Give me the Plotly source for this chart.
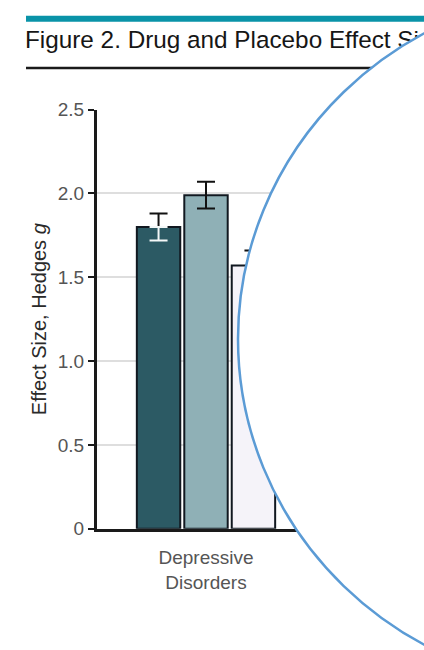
import plotly.graph_objects as go

# Effect sizes (Hedges g) with error bar half-widths
categories = ["Depressive<br>Disorders"]
drug_values = [1.80]
drug_err = [0.08]
placebo_values = [1.99]
placebo_err = [0.08]
third_values = [1.57]
third_err = [0.09]

y_ticks = [0, 0.5, 1.0, 1.5, 2.0, 2.5]
y_ticktext = ["0", "0.5", "1.0", "1.5", "2.0", "2.5"]

title_text = "Figure 2. Drug and Placebo Effect Sizes"

W, H = 424, 650
FONT = "Liberation Sans, Arial, sans-serif"
EDGE = "#111820"

fig = go.Figure()

series = [
    ("a", drug_values, drug_err, "#2c5a64"),
    ("b", placebo_values, placebo_err, "#8fb0b6"),
    ("c", third_values, third_err, "#f5f3f9"),
]
for group, vals, errs, color in series:
    lower = [0] * len(errs) if group == "a" else errs
    fig.add_trace(go.Bar(
        x=categories, y=vals, offsetgroup=group,
        marker=dict(color=color, line=dict(color=EDGE, width=2)),
        error_y=dict(type="data", symmetric=False, array=errs, arrayminus=lower,
                     color="#111", thickness=2, width=9),
        xaxis="x", yaxis="y", showlegend=False,
    ))

# lower whisker of the dark bar is drawn in white so it reads on the fill
fig.add_trace(go.Bar(
    x=categories, y=drug_values, offsetgroup="a",
    marker=dict(color="rgba(0,0,0,0)", line=dict(width=0)),
    error_y=dict(type="data", symmetric=False, array=[0] * len(drug_err),
                 arrayminus=drug_err, color="#f4f8f8", thickness=2, width=9),
    xaxis="x", yaxis="y", showlegend=False, hoverinfo="skip",
))

# title text on a full-page overlay axis so the callout circle sits above it
fig.add_trace(go.Scatter(
    x=[25], y=[33.5], mode="text", text=[title_text], textposition="middle right",
    textfont=dict(family=FONT, size=24.3, color="#161616"),
    xaxis="x2", yaxis="y2", showlegend=False, hoverinfo="skip", cliponaxis=True,
))

fig.update_layout(
    width=W, height=H,
    margin=dict(l=0, r=0, t=0, b=0),
    paper_bgcolor="white", plot_bgcolor="rgba(0,0,0,0)",
    barmode="group", bargap=0.347, bargroupgap=0.085,
    xaxis=dict(
        domain=[97 / W, 1.0], range=[-0.5, 1.0], type="category",
        showline=True, linecolor="#1a1a1a", linewidth=3,
        ticks="", showgrid=False, zeroline=False, ticklabelstandoff=10,
        tickfont=dict(family=FONT, size=19, color="#555"),
    ),
    yaxis=dict(
        domain=[1 - 536 / H, 1 - 103 / H], range=[0, 2.5],
        tickvals=y_ticks, ticktext=y_ticktext,
        showline=True, linecolor="#1a1a1a", linewidth=3,
        ticks="outside", ticklen=6, tickwidth=2, tickcolor="#1a1a1a",
        showgrid=True, gridcolor="#dedede", gridwidth=2, zeroline=False,
        tickfont=dict(family=FONT, size=19, color="#555"),
        title=dict(text="Effect Size, Hedges <i>g</i>", standoff=6,
                   font=dict(family=FONT, size=20, color="#2a2a2a")),
    ),
    xaxis2=dict(domain=[0, 1], range=[0, W], visible=False, fixedrange=True),
    yaxis2=dict(domain=[0, 1], range=[H, 0], visible=False, fixedrange=True,
                anchor="x2"),
    shapes=[
        # teal header rule
        dict(type="line", xref="paper", yref="paper",
             x0=26 / W, x1=1.0, y0=1 - 9 / H, y1=1 - 9 / H,
             line=dict(color="#0a93a8", width=6), layer="above"),
        # black rule beneath the title
        dict(type="line", xref="paper", yref="paper",
             x0=26 / W, x1=1.0, y0=1 - 60 / H, y1=1 - 60 / H,
             line=dict(color="#1a1a1a", width=2.5), layer="above"),
        # callout circle
        dict(type="circle", xref="paper", yref="paper",
             x0=(599 - 361) / W, x1=(599 + 361) / W,
             y0=1 - (340 + 361) / H, y1=1 - (340 - 361) / H,
             fillcolor="white", line=dict(color="#5b9bd5", width=2.5),
             layer="above"),
    ],
)

fig.write_html("out.html")
